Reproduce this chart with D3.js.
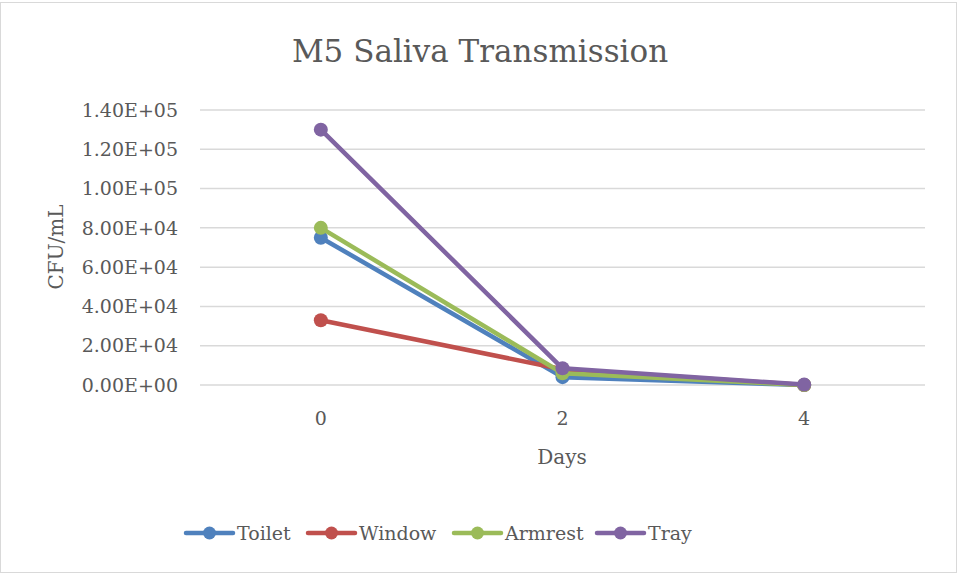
<!DOCTYPE html>
<html>
<head>
<meta charset="utf-8">
<script src="https://cdn.jsdelivr.net/npm/d3@7"></script>
<style>
  body { margin: 0; background: #fff; }
  svg text { font-family: "DejaVu Serif", "Liberation Serif", serif; fill: #595959; }
</style>
</head>
<body>
<svg width="959" height="575"></svg>
<script>
const days = ["0", "2", "4"];
const yTicks = [0, 20000, 40000, 60000, 80000, 100000, 120000, 140000];
const seriesNames = ["Toilet", "Window", "Armrest", "Tray"];
const colors = ["#4F81BD", "#C0504D", "#9BBB59", "#8064A2"];
const toilet = [75000, 4000, 0];
const windowVals = [33000, 8000, 0];
const armrest = [80000, 6000, 0];
const tray = [130000, 8500, 200];

const series = [toilet, windowVals, armrest, tray].map((v, i) => ({
  name: seriesNames[i], color: colors[i],
  values: v.map((y, j) => ({ day: days[j], y }))
}));

const svg = d3.select("svg"),
  width = +svg.attr("width"),
  height = +svg.attr("height");

// chart frame
svg.append("rect")
  .attr("x", 0.5).attr("y", 2.5)
  .attr("width", width - 3).attr("height", height - 5)
  .attr("fill", "#fff").attr("stroke", "#d9d9d9");

const x = d3.scaleBand().domain(days).range([200, 925]);
const y = d3.scaleLinear().domain([0, 140000]).range([385, 110]);

// gridlines
svg.append("g")
  .selectAll("line")
  .data(yTicks)
  .enter().append("line")
  .attr("x1", 200).attr("x2", 925)
  .attr("y1", d => y(d)).attr("y2", d => y(d))
  .attr("stroke", "#d9d9d9").attr("stroke-width", 1.5);

// y tick labels
svg.append("g")
  .selectAll("text")
  .data(yTicks)
  .enter().append("text")
  .attr("x", 178).attr("y", d => y(d))
  .attr("dy", "0.35em")
  .attr("text-anchor", "end")
  .attr("font-size", 19)
  .text(d => d.toExponential(2).toUpperCase().replace(/E([+-])(\d)$/, "E$10$2"));

// x tick labels
svg.append("g")
  .selectAll("text")
  .data(days)
  .enter().append("text")
  .attr("x", d => x(d) + x.bandwidth() / 2)
  .attr("y", 425)
  .attr("text-anchor", "middle")
  .attr("font-size", 19)
  .text(d => d);

// title & axis titles
svg.append("text")
  .attr("x", 480).attr("y", 62)
  .attr("text-anchor", "middle")
  .attr("font-size", 31)
  .text("M5 Saliva Transmission");

svg.append("text")
  .attr("x", 562).attr("y", 464)
  .attr("text-anchor", "middle")
  .attr("font-size", 20)
  .text("Days");

svg.append("text")
  .attr("transform", "translate(63,247) rotate(-90)")
  .attr("text-anchor", "middle")
  .attr("font-size", 20)
  .text("CFU/mL");

// lines
const line = d3.line()
  .x(d => x(d.day) + x.bandwidth() / 2)
  .y(d => y(d.y));

const g = svg.append("g")
  .selectAll("g")
  .data(series)
  .enter().append("g");

g.append("path")
  .attr("d", d => line(d.values))
  .attr("fill", "none")
  .attr("stroke", d => d.color)
  .attr("stroke-width", 4.5)
  .attr("stroke-linejoin", "round")
  .attr("stroke-linecap", "round");

g.selectAll("circle")
  .data(d => d.values.map(v => ({ ...v, color: d.color })))
  .enter().append("circle")
  .attr("cx", d => x(d.day) + x.bandwidth() / 2)
  .attr("cy", d => y(d.y))
  .attr("r", 7)
  .attr("fill", d => d.color);

// legend
const legendX = [186, 308, 454, 597];
const leg = svg.append("g")
  .selectAll("g")
  .data(series)
  .enter().append("g")
  .attr("transform", (d, i) => `translate(${legendX[i]},533)`);

leg.append("line")
  .attr("x1", 0).attr("x2", 47)
  .attr("stroke", d => d.color)
  .attr("stroke-width", 4.5)
  .attr("stroke-linecap", "round");

leg.append("circle")
  .attr("cx", 23.5).attr("r", 6.5)
  .attr("fill", d => d.color);

leg.append("text")
  .attr("x", 51).attr("dy", "0.35em")
  .attr("font-size", 19)
  .text(d => d.name);
</script>
</body>
</html>
